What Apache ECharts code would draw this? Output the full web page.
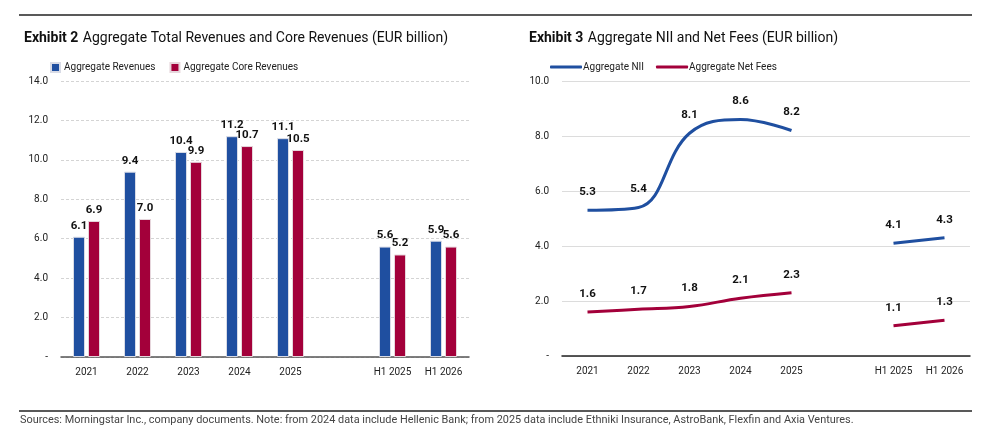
<!DOCTYPE html>
<html>
<head>
<meta charset="utf-8">
<script src="https://cdn.jsdelivr.net/npm/echarts@6/dist/echarts.min.js"></script>
<style>
  html, body { margin: 0; padding: 0; background: #fff; }
  #main { width: 992px; height: 447px; }
</style>
</head>
<body>
<div id="main"></div>
<script>
var FONT = "Roboto, 'Liberation Sans', sans-serif";

// categories (blank slot separates full years from half years)
var categories = ['2021', '2022', '2023', '2024', '2025', '', 'H1 2025', 'H1 2026'];

// Exhibit 2 - bars
var totalRevenues = [6.1, 9.4, 10.4, 11.2, 11.1, '-', 5.6, 5.9];
var coreRevenues = [6.9, 7.0, 9.9, 10.7, 10.5, '-', 5.2, 5.6];

// Exhibit 3 - lines
var nii = [5.3, 5.4, 8.1, 8.6, 8.2, '-', 4.1, 4.3];
var netFees = [1.6, 1.7, 1.8, 2.1, 2.3, '-', 1.1, 1.3];

var BLUE = '#1f4fa0';
var RED = '#a3003a';

function tick(v) {
    return v === 0 ? '-' : v.toFixed(1);
}

var labelStyle = {
    show: true,
    position: 'top',
    fontFamily: FONT,
    fontSize: 11.5,
    fontWeight: 'bold',
    color: '#111',
    formatter: function (p) { return p.value.toFixed(1); }
};

function titleRich() {
    return {
        b: { fontFamily: FONT, fontSize: 14, fontWeight: 'bold', color: '#111' },
        n: { fontFamily: FONT, fontSize: 14, fontWeight: 'normal', color: '#111' }
    };
}

var myChart = echarts.init(document.getElementById('main'));
var option = {
    backgroundColor: '#fff',
    animation: false,
    textStyle: { fontFamily: FONT },
    title: [
        {
            left: 19, top: 24,
            text: '{b|Exhibit 2} {n|Aggregate Total Revenues and Core Revenues (EUR billion)}',
            textStyle: { fontWeight: 'normal', rich: titleRich() }
        },
        {
            left: 524, top: 24,
            text: '{b|Exhibit 3} {n|Aggregate NII and Net Fees (EUR billion)}',
            textStyle: { fontWeight: 'normal', rich: titleRich() }
        }
    ],
    legend: [
        {
            left: 45, top: 57,
            data: ['Aggregate Revenues', 'Aggregate Core Revenues'],
            icon: 'rect',
            itemWidth: 9, itemHeight: 9, itemGap: 14,
            textStyle: { fontFamily: FONT, fontSize: 10, color: '#222', padding: [0, 0, 0, -1] }
        },
        {
            left: 545, top: 57,
            data: ['Aggregate NII', 'Aggregate Net Fees'],
            icon: 'roundRect',
            itemWidth: 32, itemHeight: 3, itemGap: 12,
            textStyle: { fontFamily: FONT, fontSize: 10, color: '#222', padding: [0, 0, 0, -4] }
        }
    ],
    grid: [
        { left: 61, top: 81, width: 408, height: 276 },
        { left: 562, top: 81, width: 408, height: 275 }
    ],
    xAxis: [
        {
            gridIndex: 0, type: 'category', data: categories,
            axisLine: { lineStyle: { color: '#555', width: 1.5 } },
            axisTick: { show: false },
            axisLabel: { fontFamily: FONT, fontSize: 10, color: '#222', margin: 10, interval: 0 }
        },
        {
            gridIndex: 1, type: 'category', data: categories,
            axisLine: { lineStyle: { color: '#222', width: 1.5 } },
            axisTick: { show: false },
            axisLabel: { fontFamily: FONT, fontSize: 10, color: '#222', margin: 10, interval: 0 }
        }
    ],
    yAxis: [
        {
            gridIndex: 0, type: 'value', min: 0, max: 14, interval: 2,
            axisLine: { show: false }, axisTick: { show: false },
            axisLabel: { fontFamily: FONT, fontSize: 10, color: '#222', margin: 13, formatter: tick },
            splitLine: { lineStyle: { color: '#d4d4d4', type: [3, 2] } }
        },
        {
            gridIndex: 1, type: 'value', min: 0, max: 10, interval: 2,
            axisLine: { show: false }, axisTick: { show: false },
            axisLabel: { fontFamily: FONT, fontSize: 10, color: '#222', margin: 13, formatter: tick },
            splitLine: { lineStyle: { color: '#dcdcdc', width: 1 } }
        }
    ],
    series: [
        {
            name: 'Aggregate Revenues', type: 'bar',
            xAxisIndex: 0, yAxisIndex: 0,
            data: totalRevenues,
            barWidth: 12, barGap: '25%',
            itemStyle: { color: BLUE, borderColor: '#d8dbe6', borderWidth: 1 },
            label: Object.assign({}, labelStyle, { distance: 5 })
        },
        {
            name: 'Aggregate Core Revenues', type: 'bar',
            xAxisIndex: 0, yAxisIndex: 0,
            data: coreRevenues,
            barWidth: 12,
            itemStyle: { color: RED, borderColor: '#e6d6dc', borderWidth: 1 },
            label: Object.assign({}, labelStyle, { distance: 5 })
        },
        {
            name: 'Aggregate NII', type: 'line',
            xAxisIndex: 1, yAxisIndex: 1,
            data: nii,
            smooth: 0.4,
            connectNulls: false,
            symbol: 'circle', symbolSize: 0.1,
            color: BLUE,
            lineStyle: { color: BLUE, width: 3 },
            itemStyle: { color: BLUE },
            label: Object.assign({}, labelStyle, { distance: 12 })
        },
        {
            name: 'Aggregate Net Fees', type: 'line',
            xAxisIndex: 1, yAxisIndex: 1,
            data: netFees,
            smooth: 0.4,
            connectNulls: false,
            symbol: 'circle', symbolSize: 0.1,
            color: RED,
            lineStyle: { color: RED, width: 3 },
            itemStyle: { color: RED },
            label: Object.assign({}, labelStyle, { distance: 12 })
        }
    ],
    graphic: [
        { type: 'line', shape: { x1: 19, y1: 15, x2: 972, y2: 15 }, style: { stroke: '#222', lineWidth: 1.5 } },
        { type: 'line', shape: { x1: 19, y1: 411, x2: 972, y2: 411 }, style: { stroke: '#222', lineWidth: 1.5 } },
        {
            type: 'text', left: 20, top: 415,
            style: {
                text: 'Sources: Morningstar Inc., company documents. Note: from 2024 data include Hellenic Bank; from 2025 data include Ethniki Insurance, AstroBank, Flexfin and Axia Ventures.',
                fontFamily: FONT, fontSize: 10.9, fill: '#444'
            }
        }
    ]
};
myChart.setOption(option);
</script>
</body>
</html>
